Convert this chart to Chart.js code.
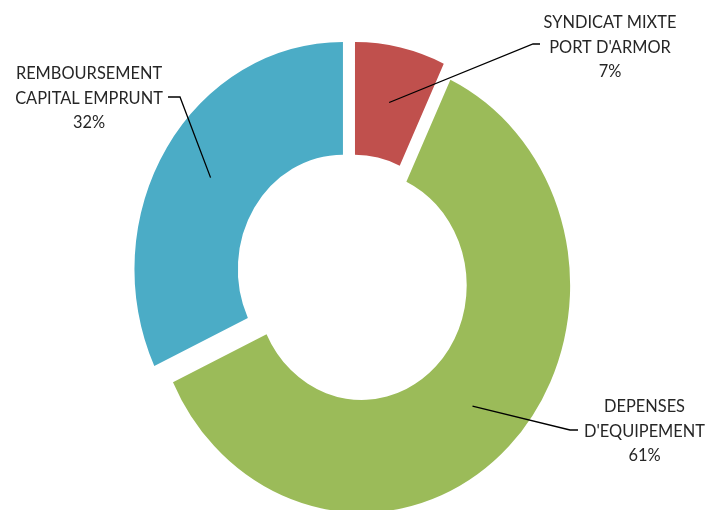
<!DOCTYPE html>
<html>
<head>
<meta charset="utf-8">
<script src="https://cdn.jsdelivr.net/npm/chart.js@4.4.0/dist/chart.umd.min.js"></script>
<style>
  html, body { margin: 0; padding: 0; background: #fff; }
  #wrap { width: 709px; height: 510px; }
</style>
</head>
<body>
<div id="wrap"><canvas id="myChart" width="709" height="510"></canvas></div>
<script>
// données du graphique
const categories = [
    ['SYNDICAT MIXTE', "PORT D'ARMOR"],
    ['DEPENSES', "D'EQUIPEMENT"],
    ['REMBOURSEMENT', 'CAPITAL EMPRUNT']
];
const values = [7, 61, 32];
const colors = ['#C0504D', '#9BBB59', '#4BACC6'];

// mise en page (pas des données)
const explode = [6.8, 11.5, 12.5];   // décalage de chaque part
const stretchY = 1.09;               // l'anneau est un peu plus haut que large
const labelFont = '16.4px Lato';
const lineHeight = 24.7;
const labelPos = [
    { x: 610, y: 28, elbow: [[540, 44], [533, 44]] },
    { x: 644.5, y: 412, elbow: [[578, 430], [570, 430]] },
    { x: 89, y: 79, elbow: [[168, 97], [180, 97]] }
];

const total = values.reduce((a, b) => a + b, 0);

const donutLook = {
    id: 'donutLook',
    afterDatasetsUpdate(chart) {
        // éclate les parts le long de leur bissectrice
        chart.getDatasetMeta(0).data.forEach((arc, i) => {
            const mid = (arc.startAngle + arc.endAngle) / 2;
            arc.x += Math.cos(mid) * explode[i];
            arc.y += Math.sin(mid) * explode[i];
        });
    },
    beforeDatasetsDraw(chart) {
        const { ctx, chartArea } = chart;
        const cx = (chartArea.left + chartArea.right) / 2;
        const cy = (chartArea.top + chartArea.bottom) / 2;
        ctx.save();
        ctx.translate(cx, cy);
        ctx.scale(1, stretchY);
        ctx.translate(-cx, -cy);
    },
    afterDatasetsDraw(chart) {
        const { ctx, chartArea } = chart;
        ctx.restore();
        const cy = (chartArea.top + chartArea.bottom) / 2;

        chart.getDatasetMeta(0).data.forEach((arc, i) => {
            const p = arc.getCenterPoint();
            const pos = labelPos[i];

            // trait de rappel
            ctx.save();
            ctx.strokeStyle = '#000';
            ctx.lineWidth = 1.3;
            ctx.beginPath();
            ctx.moveTo(pos.elbow[0][0], pos.elbow[0][1]);
            ctx.lineTo(pos.elbow[1][0], pos.elbow[1][1]);
            ctx.lineTo(p.x, cy + (p.y - cy) * stretchY);
            ctx.stroke();
            ctx.restore();

            // étiquette
            const lines = categories[i].concat([Math.round(values[i] / total * 100) + '%']);
            ctx.save();
            ctx.fillStyle = '#262626';
            ctx.font = labelFont;
            ctx.textAlign = 'center';
            ctx.textBaseline = 'alphabetic';
            lines.forEach((txt, j) => {
                ctx.save();
                ctx.translate(pos.x, pos.y + j * lineHeight);
                ctx.scale(1, stretchY);
                ctx.fillText(txt, 0, 0);
                ctx.restore();
            });
            ctx.restore();
        });
    }
};

const ctx = document.getElementById('myChart');

const chart = new Chart(ctx, {
    type: 'doughnut',
    data: {
        labels: categories.map(c => c.join(' ')),
        datasets: [{
            data: values,
            backgroundColor: colors,
            borderWidth: 0,
            clip: false
        }]
    },
    options: {
        responsive: false,
        animation: false,
        events: [],
        radius: 208.5,
        cutout: '50.4%',
        layout: {
            padding: { left: 0, right: 2, top: 43, bottom: 0 }
        },
        plugins: {
            legend: { display: false },
            tooltip: { enabled: false }
        }
    },
    plugins: [donutLook]
});
</script>
</body>
</html>
